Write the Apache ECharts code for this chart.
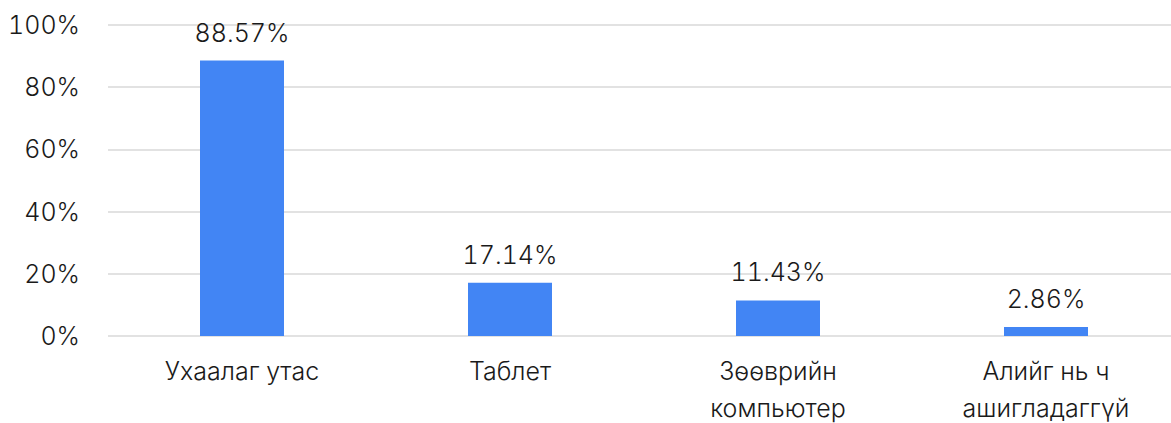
<!DOCTYPE html>
<html>
<head>
<meta charset="utf-8">
<script src="https://cdn.jsdelivr.net/npm/echarts@6/dist/echarts.min.js"></script>
<style>
  html, body { margin: 0; padding: 0; background: #fff; }
  #chart { width: 1171px; height: 423px; }
  /* tabular digits like the original */
  #chart text { font-variant-numeric: tabular-nums; font-feature-settings: "tnum"; }
</style>
</head>
<body>
<div id="chart"></div>
<script>
  // categories and values
  var categories = ['Ухаалаг утас', 'Таблет', 'Зөөврийн\nкомпьютер', 'Алийг нь ч\nашигладаггүй']
  var shares = [88.57, 17.14, 11.43, 2.86]
  var yTicks = [0, 20, 40, 60, 80, 100]

  var font = 'Inter, Roboto, sans-serif'
  var textColor = '#1a1a1a'
  var myChart = echarts.init(document.getElementById('chart'), null, { renderer: 'svg' })
  myChart.setOption({
    animation: false,
    grid: { left: 108, right: -9, top: 25, bottom: 87, outerBoundsMode: 'none' },
    xAxis: {
      type: 'category',
      data: categories,
      axisLine: { show: false },
      axisTick: { show: false },
      axisLabel: {
        color: textColor,
        fontFamily: font,
        fontSize: 25,
        fontWeight: 350,
        lineHeight: 37,
        margin: 16,
        interval: 0
      }
    },
    yAxis: {
      type: 'value',
      min: yTicks[0],
      max: yTicks[yTicks.length - 1],
      interval: 20,
      axisLabel: {
        color: textColor,
        fontFamily: font,
        fontSize: 25,
        fontWeight: 350,
        margin: 28,
        formatter: '{value}%'
      },
      splitLine: { lineStyle: { color: '#d9d9d9', width: 1.5 } }
    },
    series: [{
      type: 'bar',
      data: shares,
      barWidth: 84,
      itemStyle: { color: '#4285F4' },
      label: {
        show: true,
        position: 'top',
        distance: 13,
        color: textColor,
        fontFamily: font,
        fontSize: 25,
        fontWeight: 350,
        lineHeight: 30,
        formatter: function (p) { return p.value.toFixed(2) + '%' }
      }
    }]
  })
</script>
</body>
</html>
